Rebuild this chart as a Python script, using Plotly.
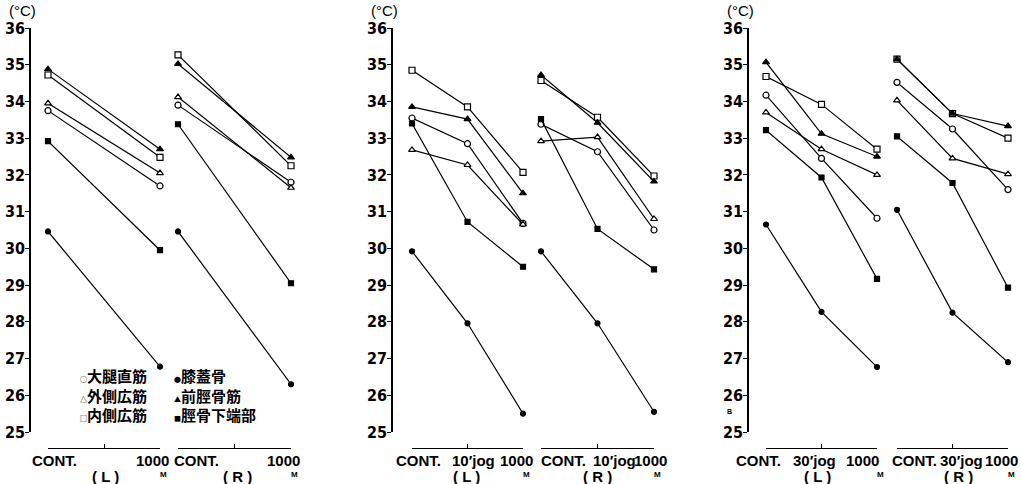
import plotly.graph_objects as go

# ---------------- data ----------------
series_names = ["大腿直筋", "外側広筋", "内側広筋", "膝蓋骨", "前脛骨筋", "脛骨下端部"]
series_marks = ["○", "△", "□", "●", "▲", "■"]

labels_p1 = ["CONT.", "1000"]
labels_p2 = ["CONT.", "10′jog", "1000"]
labels_p3 = ["CONT.", "30′jog", "1000"]

# order of rows: 大腿直筋, 外側広筋, 内側広筋, 膝蓋骨, 前脛骨筋, 脛骨下端部
p1_L = [[33.75, 31.70], [33.95, 32.05], [34.72, 32.48],
        [30.46, 26.78], [34.88, 32.70], [32.92, 29.95]]
p1_R = [[33.90, 31.80], [34.12, 31.65], [35.27, 32.25],
        [30.46, 26.30], [35.02, 32.48], [33.38, 29.05]]
p2_L = [[33.55, 32.85, 30.68], [32.68, 32.27, 30.65], [34.85, 33.85, 32.07],
        [29.92, 27.96, 25.50], [33.85, 33.52, 31.50], [33.40, 30.72, 29.50]]
p2_R = [[33.38, 32.63, 30.50], [32.92, 33.03, 30.80], [34.57, 33.57, 31.97],
        [29.92, 27.96, 25.55], [34.72, 33.42, 31.82], [33.52, 30.53, 29.43]]
p3_L = [[34.17, 32.45, 30.82], [33.70, 32.70, 32.00], [34.68, 33.92, 32.70],
        [30.65, 28.27, 26.77], [35.07, 33.12, 32.50], [33.22, 31.93, 29.17]]
p3_R = [[34.52, 33.25, 31.60], [34.03, 32.45, 32.02], [35.15, 33.67, 33.00],
        [31.05, 28.25, 26.90], [35.15, 33.67, 33.33], [33.05, 31.78, 28.93]]

y_ticks = list(range(25, 37))

# ---------------- styling / layout ----------------
W, H = 1021, 484
TOP_PX, BOTTOM_PX = 28, 448  # pixels of the plot area
MT = TOP_PX
MB = H - BOTTOM_PX
PLOT_H = H - MT - MB


def py(px):
    """pixel y -> paper fraction"""
    return (BOTTOM_PX - px) / PLOT_H


def pxx(px):
    """pixel x -> paper fraction"""
    return px / W


# open symbols get a white fill so the lines stop at their edges
symbols = ["circle", "triangle-up", "square", "circle", "triangle-up", "square"]
fills = ["white", "white", "white", "black", "black", "black"]
msizes = [6, 6, 6, 5, 6, 5]

NUM_FONT = "Liberation Sans Narrow, Arial Narrow, DejaVu Sans Condensed, sans-serif"
LBL_FONT = "Liberation Sans, Arial, sans-serif"
CJK_FONT = "Noto Sans CJK JP, sans-serif"

# sub-panels: values, x labels, x axis, y axis, pixel domain, label shifts, side label, shift, x positions
subpanels = [
    (p1_L, labels_p1, "x", "y", (48, 160), [6, -8], "( L )", 1, [0, 1]),
    (p1_R, labels_p1, "x2", "y", (178, 291), [18, -8], "( R )", 3, [0, 1]),
    (p2_L, labels_p2, "x3", "y2", (412, 523), [6, 6, -7], "( L )", -1, [0, 1, 2]),
    (p2_R, labels_p2, "x4", "y2", (541, 654), [22, 17, -4], "( R )", 0, [0, 1, 2]),
    (p3_L, labels_p3, "x5", "y3", (766, 877), [-8, -7, -15], "( L )", -4, [0, 1, 2]),
    (p3_R, labels_p3, "x6", "y3", (897, 1008), [17, 9, -7], "( R )", 6, [0, 1, 2]),
]

fig = go.Figure()
annotations = []

for vals, xlabels, xa, ya, dom, shifts, side, sideshift, xs in subpanels:
    for i, row in enumerate(vals):
        fig.add_trace(go.Scatter(
            x=xs, y=row, xaxis=xa, yaxis=ya,
            mode="lines+markers", name=series_names[i], showlegend=False,
            cliponaxis=False,
            line=dict(color="black", width=1.2),
            marker=dict(symbol=symbols[i], size=msizes[i], color=fills[i],
                        line=dict(color="black", width=1.2)),
        ))
    n = len(xs)
    axname = "xaxis" if xa == "x" else "xaxis" + xa[1:]
    tickvals = [0, 0.5, 1] if n == 2 else [0, 1, 2]
    fig.layout[axname] = dict(
        domain=[pxx(dom[0]), pxx(dom[1])], range=[0, n - 1],
        anchor="free", position=0,
        showline=True, linecolor="black", linewidth=1.2,
        ticks="inside", ticklen=4, tickwidth=1.2, tickcolor="black",
        tickvals=tickvals, showticklabels=False,
        showgrid=False, zeroline=False,
    )
    for j, lab in enumerate(xlabels):
        annotations.append(dict(
            xref=xa, yref="paper", x=xs[j], y=py(461), xshift=shifts[j],
            text=lab, showarrow=False, xanchor="center", yanchor="middle",
            font=dict(family=LBL_FONT, size=15, color="black", weight="bold"),
        ))
    annotations.append(dict(
        xref=xa, yref="paper", x=(n - 1) / 2, y=py(476), xshift=sideshift,
        text=side, showarrow=False, xanchor="center", yanchor="middle",
        font=dict(family=LBL_FONT, size=15, color="black", weight="bold"),
    ))
    annotations.append(dict(
        xref=xa, yref="paper", x=n - 1, y=py(474), xshift=3,
        text="M", showarrow=False, xanchor="center", yanchor="middle",
        font=dict(family=LBL_FONT, size=8, color="black", weight="bold"),
    ))

# y axes
yaxis_px = [30, 392, 748]
ydom = [py(432), 1]
for k, xp in enumerate(yaxis_px):
    name = "yaxis" if k == 0 else "yaxis%d" % (k + 1)
    fig.layout[name] = dict(
        domain=ydom, range=[25, 36], anchor="free", position=pxx(xp),
        showline=True, linecolor="black", linewidth=1.5,
        ticks="outside", ticklen=4, tickwidth=1.2, tickcolor="black",
        tickvals=y_ticks, ticktext=[str(v) for v in y_ticks],
        tickfont=dict(family=NUM_FONT, size=16, color="black", weight="bold"),
        ticklabelstandoff=-3,
        showgrid=False, zeroline=False,
    )
    cap = "yaxis%d" % (k + 4)
    fig.layout[cap] = dict(
        overlaying="y" if k == 0 else "y%d" % (k + 1),
        range=[25, 36], anchor="free", position=pxx(xp),
        showline=False, ticks="inside", ticklen=5, tickwidth=1.2, tickcolor="black",
        tickvals=[y_ticks[0], y_ticks[-1]], showticklabels=False,
        showgrid=False, zeroline=False,
    )
    annotations.append(dict(
        xref="paper", yref="paper", x=pxx(xp - 8), y=py(11),
        text="(°C)", showarrow=False, xanchor="center", yanchor="middle",
        font=dict(family=LBL_FONT, size=15, color="black"),
    ))

for k in range(3):
    fig.add_trace(go.Scatter(x=[None], y=[None], xaxis=["x", "x3", "x5"][k],
                             yaxis="y%d" % (k + 4), showlegend=False, hoverinfo="skip"))

# legend (two columns) inside the first panel
leg_cols_px = [78, 172]
for col in range(2):
    lines = []
    for i in range(col * 3, col * 3 + 3):
        lines.append("<span style='font-size:7px'>%s</span>%s" % (series_marks[i], series_names[i]))
    annotations.append(dict(
        xref="paper", yref="paper", x=pxx(leg_cols_px[col]), y=py(395),
        text="<br>".join(lines), align="left",
        showarrow=False, xanchor="left", yanchor="middle",
        font=dict(family=CJK_FONT, size=15, color="black", weight="bold"),
    ))

annotations.append(dict(
    xref="paper", yref="paper", x=pxx(734), y=py(417), text="B", showarrow=False,
    font=dict(family=LBL_FONT, size=7, color="black", weight="bold"),
))

fig.update_layout(
    width=W, height=H,
    margin=dict(l=0, r=0, t=MT, b=MB, pad=0),
    paper_bgcolor="white", plot_bgcolor="white",
    showlegend=False,
    annotations=annotations,
)

fig.write_html("out.html", config={"displayModeBar": False},
               post_script="document.body.style.margin='0px';")
